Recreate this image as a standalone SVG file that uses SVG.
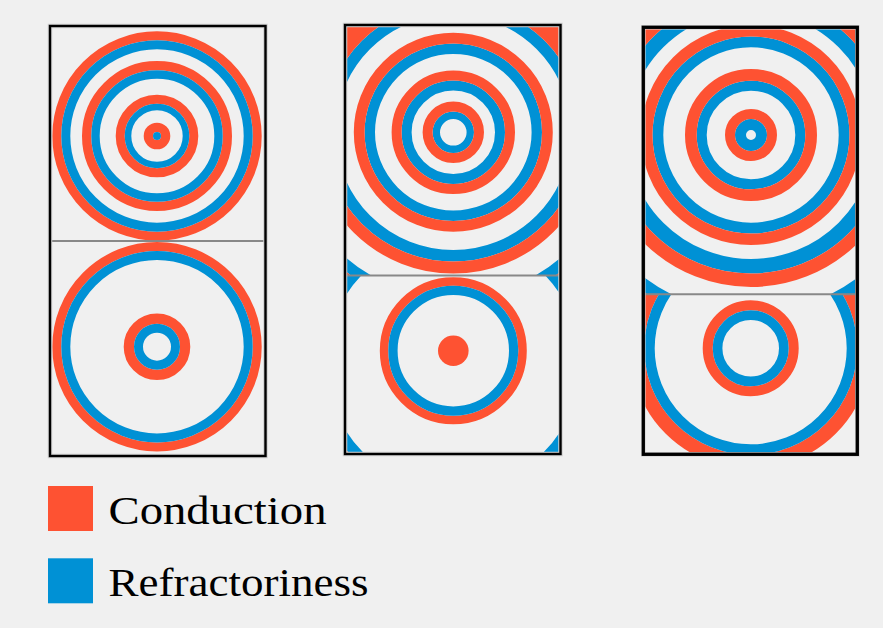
<svg xmlns="http://www.w3.org/2000/svg" width="883" height="628" viewBox="0 0 883 628">
<style>
.c{fill:none;stroke:#fe5232}
.r{fill:none;stroke:#0091d5}
.cf{fill:#fe5232}
.rf{fill:#0091d5}
.halo{fill:none;stroke:#cfcfcf;stroke-width:4.5}
.frame{fill:none;stroke:#000}
.div{stroke:#888;stroke-width:2}
.lbl{font-family:"Liberation Serif","DejaVu Serif",serif;font-size:41px;fill:#000}
</style>
<defs>
<clipPath id="p2t"><rect x="346" y="26" width="213.5" height="249"/></clipPath>
<clipPath id="p2tc"><rect x="346" y="26" width="213.5" height="70"/></clipPath>
<clipPath id="p2bb"><rect x="346" y="275.5" width="213.5" height="177.5"/></clipPath>
<clipPath id="p3t"><rect x="645" y="29" width="211" height="265"/></clipPath>
<clipPath id="p3b"><rect x="645" y="294.5" width="211" height="158.5"/></clipPath>
</defs>
<rect width="883" height="628" fill="#f0f0f0"/>

<g id="panel1">
  <g id="panel1-top">
    <circle class="c" cx="157" cy="136" r="100.2" stroke-width="9"/>
    <circle class="r" cx="157" cy="136" r="91.2" stroke-width="9"/>
    <circle class="c" cx="157" cy="136" r="70.35" stroke-width="9.3"/>
    <circle class="r" cx="157" cy="136" r="61.5" stroke-width="8.4"/>
    <circle class="c" cx="157" cy="136" r="36.8" stroke-width="9"/>
    <circle class="r" cx="157" cy="136" r="29" stroke-width="6.6"/>
    <circle class="c" cx="157" cy="136" r="8.65" stroke-width="9.3"/>
    <circle class="rf" cx="157" cy="136" r="4"/>
  </g>
  <g id="panel1-bottom">
    <circle class="c" cx="157" cy="346.7" r="100.2" stroke-width="9"/>
    <circle class="r" cx="157" cy="346.7" r="91.2" stroke-width="9"/>
    <circle class="c" cx="157" cy="346.7" r="28.15" stroke-width="10.3"/>
    <circle class="r" cx="157" cy="346.7" r="18.5" stroke-width="9"/>
  </g>
  <line class="div" x1="51" y1="241" x2="265" y2="241"/>
  <rect class="halo" x="50" y="26" width="215.5" height="430"/>
  <rect class="frame" x="50" y="26" width="215.5" height="430" stroke-width="2.4"/>
</g>

<g id="panel2">
  <g id="panel2-top" clip-path="url(#p2t)">
    <circle class="r" cx="453.3" cy="132.3" r="17" stroke-width="7.4"/>
    <circle class="c" cx="453.3" cy="132.3" r="25.7" stroke-width="10"/>
    <circle class="r" cx="453.3" cy="132.3" r="46.7" stroke-width="10"/>
    <circle class="c" cx="453.3" cy="132.3" r="56.7" stroke-width="10"/>
    <circle class="r" cx="453.3" cy="132.3" r="83.5" stroke-width="10.4"/>
    <circle class="c" cx="453.3" cy="132.3" r="94.1" stroke-width="10.8"/>
    <circle class="r" cx="453.3" cy="132.3" r="123.5" stroke-width="11.6"/>
    <circle class="c" cx="453.3" cy="132.3" r="135.3" stroke-width="12"/>
    <circle class="c" cx="453.3" cy="132.3" r="145" stroke-width="22" clip-path="url(#p2tc)"/>
    <circle class="r" cx="453.3" cy="132.3" r="170.5" stroke-width="11"/>
    <circle class="c" cx="453.3" cy="132.3" r="188" stroke-width="24"/>
  </g>
  <g id="panel2-bottom" clip-path="url(#p2bb)">
    <circle class="r" cx="453.3" cy="363" r="132.5" stroke-width="11"/>
    <circle class="c" cx="453.3" cy="363" r="151" stroke-width="26"/>
    <circle class="c" cx="453.3" cy="350.7" r="69.25" stroke-width="8.5"/>
    <circle class="r" cx="453.3" cy="350.7" r="60.35" stroke-width="9.3"/>
    <circle class="cf" cx="453.3" cy="350.7" r="15.3"/>
  </g>
  <line class="div" x1="346" y1="275.5" x2="559.5" y2="275.5"/>
  <rect class="halo" x="345" y="25" width="215.5" height="429"/>
  <rect class="frame" x="345" y="25" width="215.5" height="429" stroke-width="2.4"/>
</g>

<g id="panel3">
  <g id="panel3-top" clip-path="url(#p3t)">
    <circle class="r" cx="751" cy="135" r="10.5" stroke-width="11"/>
    <circle class="c" cx="751" cy="135" r="21" stroke-width="10"/>
    <circle class="r" cx="751" cy="135" r="49.3" stroke-width="10"/>
    <circle class="c" cx="751" cy="135" r="60.15" stroke-width="11.7"/>
    <circle class="r" cx="751" cy="135" r="93.1" stroke-width="10.8"/>
    <circle class="c" cx="751" cy="135" r="104.25" stroke-width="11.5"/>
    <circle class="r" cx="751" cy="135" r="131.25" stroke-width="14.5"/>
    <circle class="c" cx="751" cy="135" r="145.25" stroke-width="13.5"/>
    <circle class="r" cx="751" cy="135" r="184" stroke-width="12"/>
    <circle class="c" cx="751" cy="135" r="202" stroke-width="24"/>
  </g>
  <g id="panel3-bottom" clip-path="url(#p3b)">
    <circle class="c" cx="750.7" cy="348.3" r="113.5" stroke-width="14"/>
    <circle class="r" cx="750.7" cy="348.3" r="101.25" stroke-width="10.5"/>
    <circle class="c" cx="750.7" cy="348.3" r="43" stroke-width="10"/>
    <circle class="r" cx="750.7" cy="348.3" r="33.15" stroke-width="9.7"/>
  </g>
  <line class="div" x1="645" y1="294.3" x2="856" y2="294.3"/>
  <rect class="halo" x="643.3" y="27.3" width="214" height="427" stroke-width="5.5"/>
  <rect class="frame" x="643.3" y="27.3" width="214" height="427" stroke-width="3.3"/>
</g>

<g id="legend">
  <g id="legend-conduction">
    <rect class="cf" x="48" y="486" width="45" height="45"/>
    <text class="lbl" x="108.5" y="523.5" textLength="218" lengthAdjust="spacingAndGlyphs">Conduction</text>
  </g>
  <g id="legend-refractoriness">
    <rect class="rf" x="48" y="558.3" width="45" height="45"/>
    <text class="lbl" x="108.5" y="596" textLength="260" lengthAdjust="spacingAndGlyphs">Refractoriness</text>
  </g>
</g>
</svg>
